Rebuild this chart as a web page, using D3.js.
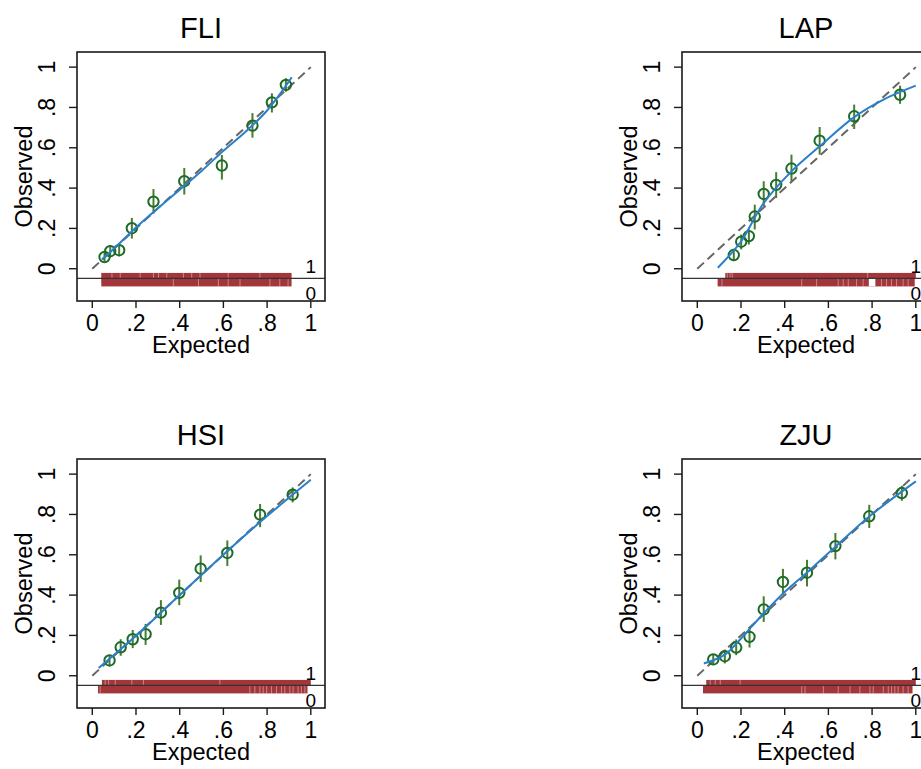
<!DOCTYPE html>
<html>
<head>
<meta charset="utf-8">
<script src="https://cdn.jsdelivr.net/npm/d3@7"></script>
<style>
  body { margin: 0; background: #fff; }
  text { font-family: "Liberation Sans", Arial, Helvetica, sans-serif; fill: #000; }
</style>
</head>
<body>
<svg width="921" height="769"></svg>
<script>
// ---- data ----
const titles = ["FLI", "LAP", "HSI", "ZJU"];
const tickVals = [0, 0.2, 0.4, 0.6, 0.8, 1];
const tickLabels = ["0", ".2", ".4", ".6", ".8", "1"];

// grouped points: [expected, observed, ci low, ci high]
const fliPts = [[0.056, 0.058, 0.035, 0.085], [0.082, 0.087, 0.058, 0.118], [0.123, 0.092, 0.062, 0.125],
  [0.181, 0.201, 0.150, 0.252], [0.280, 0.333, 0.273, 0.395], [0.421, 0.434, 0.368, 0.500],
  [0.593, 0.512, 0.442, 0.564], [0.733, 0.710, 0.650, 0.772], [0.822, 0.825, 0.775, 0.870],
  [0.886, 0.912, 0.878, 0.945]];
const lapPts = [[0.167, 0.068, 0.038, 0.099], [0.201, 0.134, 0.096, 0.170], [0.236, 0.162, 0.120, 0.195],
  [0.263, 0.259, 0.195, 0.318], [0.304, 0.371, 0.310, 0.434], [0.361, 0.416, 0.351, 0.479],
  [0.431, 0.497, 0.434, 0.566], [0.560, 0.635, 0.566, 0.703], [0.718, 0.756, 0.693, 0.814],
  [0.928, 0.863, 0.818, 0.908]];
const hsiPts = [[0.079, 0.076, 0.046, 0.104], [0.130, 0.141, 0.099, 0.181], [0.185, 0.181, 0.137, 0.227],
  [0.244, 0.206, 0.153, 0.257], [0.314, 0.313, 0.252, 0.375], [0.398, 0.411, 0.350, 0.477],
  [0.496, 0.531, 0.465, 0.597], [0.618, 0.609, 0.544, 0.671], [0.768, 0.799, 0.737, 0.852],
  [0.917, 0.898, 0.860, 0.934]];
const zjuPts = [[0.073, 0.081, 0.053, 0.107], [0.126, 0.097, 0.061, 0.130], [0.178, 0.140, 0.102, 0.180],
  [0.239, 0.193, 0.140, 0.242], [0.304, 0.329, 0.267, 0.394], [0.392, 0.465, 0.402, 0.530],
  [0.502, 0.511, 0.443, 0.575], [0.632, 0.643, 0.577, 0.708], [0.787, 0.791, 0.733, 0.848],
  [0.936, 0.906, 0.868, 0.942]];

// smoothed calibration curves
const fliSmooth = [[0.044, 0.046], [0.1, 0.1], [0.2, 0.205], [0.3, 0.3], [0.4, 0.392], [0.5, 0.485],
  [0.6, 0.585], [0.7, 0.678], [0.8, 0.785], [0.913, 0.95]];
const lapSmooth = [[0.094, 0.005], [0.2, 0.135], [0.3, 0.32], [0.431, 0.483], [0.56, 0.607],
  [0.718, 0.752], [0.85, 0.838], [1.0, 0.908]];
const hsiSmooth = [[0.029, 0.038], [0.2, 0.198], [0.4, 0.4], [0.6, 0.6], [0.8, 0.792], [1.0, 0.972]];
const zjuSmooth = [[0.03, 0.061], [0.126, 0.105], [0.2, 0.185], [0.3, 0.305], [0.4, 0.415], [0.5, 0.51],
  [0.632, 0.64], [0.787, 0.79], [1.0, 0.964]];

// rug of individual outcomes: band extent, and gaps (single value = thin gap, pair = wide gap)
const fliRug1 = [0.041, 0.912];
const fliGap1 = [0.090, 0.128, 0.219, 0.280, 0.303, 0.341, 0.417, 0.455, 0.493, 0.622, 0.767];
const fliRug0 = [0.041, 0.912];
const fliGap0 = [0.371, 0.486, 0.577, 0.622, 0.676, 0.813, 0.858, 0.896];

const lapRug1 = [0.128, 1.0];
const lapGap1 = [0.137, 0.150, 0.160, 0.780];
const lapRug0 = [0.093, 0.995];
const lapGap0 = [0.113, 0.478, 0.546, 0.645, 0.668, 0.691, 0.729, 0.759, [0.785, 0.815], 0.843, 0.866,
  0.889, 0.912, 0.942, 0.965];

const hsiRug1 = [0.044, 1.0];
const hsiGap1 = [0.059, 0.075, 0.105, 0.181, 0.234, 0.584];
const hsiRug0 = [0.026, 0.985];
const hsiGap0 = [0.036, 0.721, 0.744, 0.767, 0.782, 0.798, 0.820, 0.843, 0.866, 0.881, 0.904, 0.919,
  0.942, 0.957, 0.973];

const zjuRug1 = [0.041, 1.0];
const zjuGap1 = [0.059, 0.082, 0.105, 0.196];
const zjuRug0 = [0.026, 0.985];
const zjuGap0 = [0.478, 0.493, 0.577, 0.645, 0.699, 0.744, 0.790, 0.805, 0.851, 0.874, 0.889, 0.904,
  0.919, 0.942, 0.965];

// ---- drawing ----
var svg = d3.select("svg");

var panels = [
  { pts: fliPts, smooth: fliSmooth, rug1: fliRug1, gap1: fliGap1, rug0: fliRug0, gap0: fliGap0, dx: 0, dy: 0 },
  { pts: lapPts, smooth: lapSmooth, rug1: lapRug1, gap1: lapGap1, rug0: lapRug0, gap0: lapGap0, dx: 605, dy: 0 },
  { pts: hsiPts, smooth: hsiSmooth, rug1: hsiRug1, gap1: hsiGap1, rug0: hsiRug0, gap0: hsiGap0, dx: 0, dy: 407 },
  { pts: zjuPts, smooth: zjuSmooth, rug1: zjuRug1, gap1: zjuGap1, rug0: zjuRug0, gap0: zjuGap0, dx: 605, dy: 407 }
];

var rugColor = "#a3363b";

panels.forEach(function (p, i) {
  var left = 77 + p.dx, right = 325 + p.dx, top = 52 + p.dy, bottom = 301 + p.dy;
  var x = d3.scaleLinear().domain([-0.07, 1.065]).range([left, right]);
  var y = d3.scaleLinear().domain([-0.16, 1.075]).range([bottom, top]);
  var g = svg.append("g");
  var cx = (left + right) / 2;

  // title
  g.append("text")
    .attr("x", cx).attr("y", 38 + p.dy)
    .attr("text-anchor", "middle")
    .attr("font-size", 29)
    .text(titles[i]);

  // rug
  var yLine = y(-0.048);
  function drawRug(band, gaps, y0, h) {
    g.append("rect")
      .attr("x", x(band[0])).attr("y", y0)
      .attr("width", x(band[1]) - x(band[0])).attr("height", h)
      .attr("fill", rugColor);
    gaps.forEach(function (d) {
      if (Array.isArray(d)) {
        g.append("rect")
          .attr("x", x(d[0])).attr("y", y0)
          .attr("width", x(d[1]) - x(d[0])).attr("height", h)
          .attr("fill", "#fff");
      } else {
        g.append("line")
          .attr("x1", x(d)).attr("x2", x(d))
          .attr("y1", y0).attr("y2", y0 + h)
          .attr("stroke", "#fff").attr("stroke-width", 0.8)
          .attr("stroke-opacity", 0.5);
      }
    });
  }
  drawRug(p.rug1, p.gap1, yLine - 5.5, 5.5);
  drawRug(p.rug0, p.gap0, yLine, 8);

  g.append("line")
    .attr("x1", left).attr("x2", right)
    .attr("y1", yLine).attr("y2", yLine)
    .attr("stroke", "#333").attr("stroke-width", 1.4);

  g.append("text")
    .attr("x", x(1)).attr("y", yLine - 5)
    .attr("text-anchor", "middle").attr("font-size", 19)
    .text("1");
  g.append("text")
    .attr("x", x(1)).attr("y", yLine + 22)
    .attr("text-anchor", "middle").attr("font-size", 19)
    .text("0");

  // reference diagonal
  g.append("line")
    .attr("x1", x(0)).attr("y1", y(0))
    .attr("x2", x(1)).attr("y2", y(1))
    .attr("stroke", "#666").attr("stroke-width", 2)
    .attr("stroke-dasharray", "9,5");

  // CI spikes
  g.selectAll(".ci").data(p.pts).enter().append("line")
    .attr("x1", d => x(d[0])).attr("x2", d => x(d[0]))
    .attr("y1", d => y(d[2])).attr("y2", d => y(d[3]))
    .attr("stroke", "#477d2e").attr("stroke-width", 2);

  // group markers
  g.selectAll(".pt").data(p.pts).enter().append("circle")
    .attr("cx", d => x(d[0])).attr("cy", d => y(d[1]))
    .attr("r", 5.2)
    .attr("fill", "none")
    .attr("stroke", "#1d6b2b").attr("stroke-width", 2);

  // smoothed curve
  g.append("path")
    .datum(p.smooth)
    .attr("d", d3.line().x(d => x(d[0])).y(d => y(d[1])).curve(d3.curveCatmullRom.alpha(0.5)))
    .attr("fill", "none")
    .attr("stroke", "#2a7fca").attr("stroke-width", 2);

  // frame
  g.append("rect")
    .attr("x", left).attr("y", top)
    .attr("width", right - left).attr("height", bottom - top)
    .attr("fill", "none").attr("stroke", "#1a1a1a").attr("stroke-width", 1.6);

  // x axis ticks
  g.selectAll(".xt").data(tickVals).enter().append("line")
    .attr("x1", d => x(d)).attr("x2", d => x(d))
    .attr("y1", bottom).attr("y2", bottom + 7)
    .attr("stroke", "#1a1a1a").attr("stroke-width", 1.4);
  g.selectAll(".xl").data(tickVals).enter().append("text")
    .attr("x", d => x(d)).attr("y", 331 + p.dy)
    .attr("text-anchor", "middle").attr("font-size", 23)
    .text((d, j) => tickLabels[j]);

  // y axis ticks
  g.selectAll(".yt").data(tickVals).enter().append("line")
    .attr("x1", left).attr("x2", left - 8)
    .attr("y1", d => y(d)).attr("y2", d => y(d))
    .attr("stroke", "#1a1a1a").attr("stroke-width", 1.4);
  g.selectAll(".yl").data(tickVals).enter().append("text")
    .attr("transform", d => "translate(" + (55 + p.dx) + "," + y(d) + ") rotate(-90)")
    .attr("text-anchor", "middle").attr("font-size", 23)
    .text((d, j) => tickLabels[j]);

  // axis titles
  g.append("text")
    .attr("x", cx).attr("y", 353 + p.dy)
    .attr("text-anchor", "middle").attr("font-size", 23.5)
    .text("Expected");
  g.append("text")
    .attr("transform", "translate(" + (32 + p.dx) + "," + ((top + bottom) / 2) + ") rotate(-90)")
    .attr("text-anchor", "middle").attr("font-size", 23.5)
    .text("Observed");
});
</script>
</body>
</html>
